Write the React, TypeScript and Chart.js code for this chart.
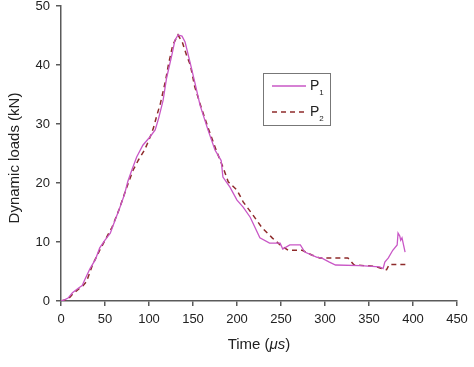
import React, { useEffect, useRef } from 'react';
import { Chart, registerables } from 'chart.js';

Chart.register(...registerables);

const p1Time = [0, 4, 8, 13, 20, 24, 27, 33, 39, 44, 50, 56, 61, 67, 72, 76, 80, 86, 93, 101, 107, 111, 116, 120, 126, 129.5, 133, 137.5, 141, 146.6, 152, 158, 167, 175, 182, 184, 192, 200, 207, 215, 226, 237, 249, 252, 260, 272, 277, 291, 296, 305, 312, 340, 362, 366, 368, 372, 377, 382, 383, 385, 386, 387.5, 391];
const p1Load = [0, 0.2, 0.5, 1.4, 2.2, 2.6, 3.6, 5.5, 7.0, 9.0, 10.3, 11.5, 13.5, 15.9, 18, 20.3, 22, 24.4, 26.4, 27.8, 29, 31, 34, 37.8, 41.7, 44.2, 45.1, 44.9, 43.9, 40.5, 37.1, 33.2, 29, 25.6, 23.8, 21, 19.3, 17.1, 15.9, 14.2, 10.7, 9.8, 9.8, 8.8, 9.5, 9.5, 8.3, 7.4, 7.3, 6.6, 6.1, 6.0, 5.8, 5.5, 6.6, 7.3, 8.6, 9.5, 11.5, 11.0, 10.3, 10.7, 8.3];

const p2Time = [0, 8, 14, 25, 29, 36, 44, 50, 58, 66, 74, 82, 88, 95, 100, 105, 109, 113, 116, 119, 122, 127, 133, 138, 143, 147, 152, 160, 168, 177, 184, 190, 200, 207, 218, 228, 240, 249, 258, 274, 285, 294, 326, 333, 355, 370, 373, 393];
const p2Load = [0, 0.3, 1.3, 2.6, 3.3, 6.2, 8.6, 10.3, 12.5, 15.5, 19, 22.2, 23.9, 25.6, 27.3, 29.3, 31.5, 33.5, 35.5, 37.5, 40, 43.4, 45.1, 43.8, 41.5, 40, 36.3, 32.5, 29, 25.3, 22.7, 20.2, 18.8, 16.8, 14.6, 12.5, 10.7, 9.5, 8.6, 8.6, 7.8, 7.3, 7.3, 6.1, 5.9, 5.3, 6.2, 6.2];

const xTicks = [0, 50, 100, 150, 200, 250, 300, 350, 400, 450];
const yTicks = [0, 10, 20, 30, 40, 50];
const seriesNames = ['P', 'P'];
const seriesSubs = ['1', '2'];
const yTitle = 'Dynamic loads (kN)';
const xTitleParts = ['Time (', 'μs', ')'];

const FONT = '"Liberation Sans", Arial, Helvetica, sans-serif';
const P1_COLOR = '#c957c6';
const P2_COLOR = '#8e2b2b';
const AXIS_COLOR = '#5a5a5a';
const TEXT_COLOR = '#222';

export default function App() {
  const ref = useRef<HTMLCanvasElement>(null);

  useEffect(() => {
    document.body.style.margin = '0';
    const canvas = ref.current;
    if (!canvas) return;

    const overlay = {
      id: 'overlay',
      afterDraw(chart: any) {
        const ctx = chart.ctx as CanvasRenderingContext2D;
        const area = chart.chartArea;
        ctx.save();
        ctx.fillStyle = TEXT_COLOR;
        ctx.font = `15px ${FONT}`;
        ctx.textAlign = 'center';
        ctx.textBaseline = 'middle';
        ctx.translate(15, 158);
        ctx.rotate(-Math.PI / 2);
        ctx.fillText(yTitle, 0, 0);
        ctx.restore();

        ctx.save();
        ctx.fillStyle = TEXT_COLOR;
        ctx.textBaseline = 'middle';
        ctx.textAlign = 'left';
        const fonts = [`15px ${FONT}`, `italic 15px ${FONT}`, `15px ${FONT}`];
        let total = 0;
        const widths = xTitleParts.map((t, i) => {
          ctx.font = fonts[i];
          const w = ctx.measureText(t).width;
          total += w;
          return w;
        });
        let x = (area.left + area.right) / 2 - total / 2;
        xTitleParts.forEach((t, i) => {
          ctx.font = fonts[i];
          ctx.fillText(t, x, 345);
          x += widths[i];
        });
        ctx.restore();

        ctx.save();
        ctx.strokeStyle = '#777';
        ctx.lineWidth = 1;
        ctx.strokeRect(263.5, 73.5, 67, 52);
        const rows = [86, 112];
        chart.data.datasets.forEach((ds: any, i: number) => {
          const y = rows[i];
          ctx.save();
          ctx.strokeStyle = ds.borderColor;
          ctx.lineWidth = ds.borderWidth;
          ctx.setLineDash(ds.borderDash || []);
          ctx.beginPath();
          ctx.moveTo(272, y);
          ctx.lineTo(306, y);
          ctx.stroke();
          ctx.restore();
          ctx.fillStyle = TEXT_COLOR;
          ctx.textAlign = 'left';
          ctx.textBaseline = 'middle';
          ctx.font = `14px ${FONT}`;
          ctx.fillText(seriesNames[i], 310, y);
          const pw = ctx.measureText(seriesNames[i]).width;
          ctx.font = `8px ${FONT}`;
          ctx.fillText(seriesSubs[i], 310 + pw, y + 7);
        });
        ctx.restore();
      },
    };

    const axisCommon = {
      type: 'linear' as const,
      grid: {
        display: true,
        drawOnChartArea: false,
        drawTicks: true,
        tickLength: 5,
        color: AXIS_COLOR,
        lineWidth: 1.5,
      },
      border: { display: true, color: AXIS_COLOR, width: 1.5 },
      title: { display: false },
    };

    const chart = new Chart(canvas, {
      type: 'line',
      data: {
        datasets: [
          {
            label: 'P1',
            data: p1Time.map((t, i) => ({ x: t, y: p1Load[i] })),
            borderColor: P1_COLOR,
            borderWidth: 1.3,
            pointRadius: 0,
            tension: 0,
            fill: false,
          },
          {
            label: 'P2',
            data: p2Time.map((t, i) => ({ x: t, y: p2Load[i] })),
            borderColor: P2_COLOR,
            borderWidth: 1.5,
            borderDash: [5, 4],
            pointRadius: 0,
            tension: 0,
            fill: false,
          },
        ],
      },
      options: {
        responsive: false,
        animation: false,
        layout: { padding: { top: 6, right: 17, left: 0, bottom: 0 } },
        plugins: {
          legend: { display: false },
          tooltip: { enabled: false },
        },
        scales: {
          x: {
            ...axisCommon,
            min: 0,
            max: 450,
            afterBuildTicks: (s: any) => {
              s.ticks = xTicks.map((v) => ({ value: v }));
            },
            afterFit: (s: any) => {
              s.height = 66;
              s.paddingLeft = 0;
              s.paddingRight = 0;
            },
            ticks: {
              padding: 6,
              color: TEXT_COLOR,
              font: { size: 13, family: FONT },
              maxRotation: 0,
              autoSkip: false,
            },
          },
          y: {
            ...axisCommon,
            min: 0,
            max: 50,
            afterBuildTicks: (s: any) => {
              s.ticks = yTicks.map((v) => ({ value: v }));
            },
            afterFit: (s: any) => {
              s.width = 61;
              s.paddingTop = 0;
              s.paddingBottom = 0;
            },
            ticks: {
              padding: 6,
              color: TEXT_COLOR,
              font: { size: 13, family: FONT },
              autoSkip: false,
            },
          },
        },
      },
      plugins: [overlay],
    });

    return () => chart.destroy();
  }, []);

  return <canvas ref={ref} width={474} height={367} style={{ display: 'block' }} />;
}
